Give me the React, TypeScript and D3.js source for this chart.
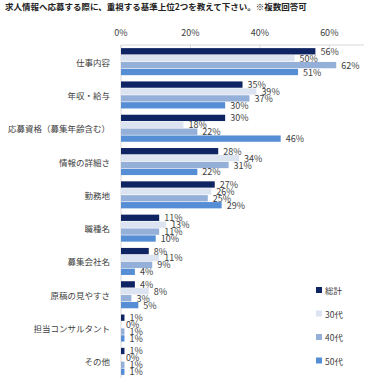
import React from "react";
import * as d3 from "d3";

const title = "求人情報へ応募する際に、重視する基準上位2つを教えて下さい。※複数回答可";
const categories = [
  "仕事内容",
  "年収・給与",
  "応募資格（募集年齢含む）",
  "情報の詳細さ",
  "勤務地",
  "職種名",
  "募集会社名",
  "原稿の見やすさ",
  "担当コンサルタント",
  "その他",
];
const seriesNames = ["総計", "30代", "40代", "50代"];
const total = [56, 35, 30, 28, 27, 11, 8, 4, 1, 1];
const age30 = [50, 39, 18, 34, 26, 13, 11, 8, 0, 0];
const age40 = [62, 37, 22, 31, 25, 11, 9, 3, 1, 1];
const age50 = [51, 30, 46, 22, 29, 10, 4, 5, 1, 1];
const tickValues = [0, 20, 40, 60];
const colors = ["#0f2462", "#dde4f1", "#95b0d8", "#568ed6"];

const series = [total, age30, age40, age50];

const W = 384;
const H = 388;
const FONT = "'Noto Sans CJK JP', 'Noto Sans', sans-serif";

export default function App() {
  const x = d3.scaleLinear().domain([0, 70]).range([121, 364]);
  const y = d3
    .scaleBand<string>()
    .domain(categories)
    .range([45, 378])
    .paddingInner(0.17)
    .paddingOuter(0.085);
  const inner = d3
    .scaleBand<string>()
    .domain(seriesNames)
    .range([0, y.bandwidth()])
    .padding(0);

  return (
    <svg
      width={W}
      height={H}
      style={{ position: "absolute", left: 0, top: 0, background: "#fff" }}
      fontFamily={FONT}
    >
      <text x={5} y={10} fontSize={8.5} fontWeight="bold" fill="#222">
        {title}
      </text>
      {/* x axis */}
      <line x1={x(0)} x2={x(70)} y1={45} y2={45} stroke="#d9d9d9" strokeWidth={1} />
      <line x1={x(0)} x2={x(0)} y1={45} y2={378} stroke="#d9d9d9" strokeWidth={1} />
      {tickValues.map((t) => (
        <g key={t}>
          <line x1={x(t)} x2={x(t)} y1={45} y2={48} stroke="#d9d9d9" />
          <text
            x={x(t)}
            y={36}
            textAnchor="middle"
            fontSize={9}
            fill="#404040"
          >
            {t}%
          </text>
        </g>
      ))}
      {categories.map((c, i) => (
        <g key={c}>
          <text
            x={110}
            y={(y(c) as number) + y.bandwidth() / 2}
            textAnchor="end"
            dominantBaseline="central"
            fontSize={8.5}
            fill="#404040"
          >
            {c}
          </text>
          {series.map((s, j) => {
            const by = (y(c) as number) + (inner(seriesNames[j]) as number);
            const bh = inner.bandwidth();
            return (
              <g key={j}>
                <rect
                  x={x(0)}
                  y={by + 0.3}
                  width={x(s[i]) - x(0)}
                  height={bh - 0.6}
                  fill={colors[j]}
                />
                <text
                  x={x(s[i]) + 5}
                  y={by + bh / 2}
                  dominantBaseline="central"
                  fontSize={9}
                  fill="#404040"
                >
                  {s[i]}%
                </text>
              </g>
            );
          })}
        </g>
      ))}
      {seriesNames.map((n, j) => {
        const ly = 290 + j * 23.5;
        return (
          <g key={n}>
            <rect x={316} y={ly - 3} width={6} height={6} fill={colors[j]} />
            <text
              x={325}
              y={ly}
              dominantBaseline="central"
              fontSize={8.5}
              fill="#404040"
            >
              {n}
            </text>
          </g>
        );
      })}
    </svg>
  );
}
